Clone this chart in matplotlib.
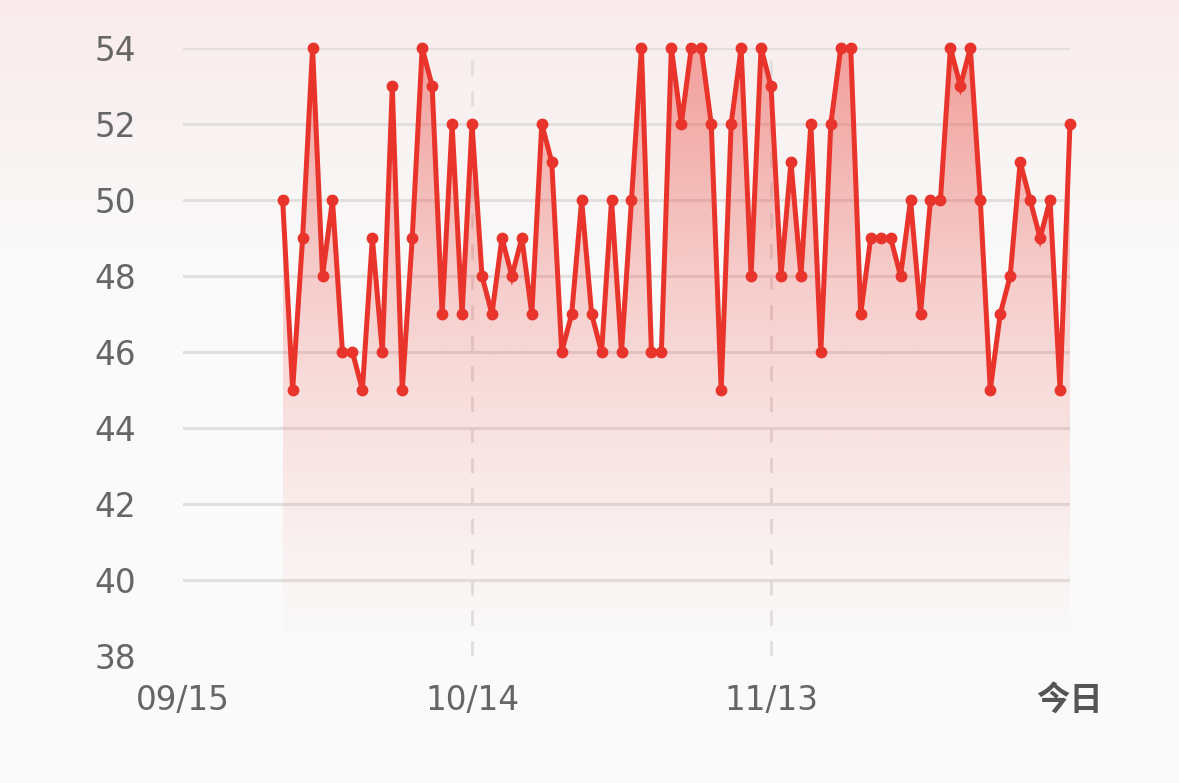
import numpy as np
import pandas as pd
import matplotlib
matplotlib.use("Agg")
import matplotlib.pyplot as plt
import matplotlib.dates as mdates
from matplotlib.colors import to_rgb

# ── Data ──────────────────────────────────────────────────────────────────────
start_date = "2024-09-25"
today = "2024-12-13"
values = [50, 45, 49, 54, 48, 50, 46, 46, 45, 49,
          46, 53, 45, 49, 54, 53, 47, 52, 47, 52,
          48, 47, 49, 48, 49, 47, 52, 51, 46, 47,
          50, 47, 46, 50, 46, 50, 54, 46, 46, 54,
          52, 54, 54, 52, 45, 52, 54, 48, 54, 53,
          48, 51, 48, 52, 46, 52, 54, 54, 47, 49,
          49, 49, 48, 50, 47, 50, 50, 54, 53, 54,
          50, 45, 47, 48, 51, 50, 49, 50, 45, 52]
tick_dates = ["2024-09-15", "2024-10-14", "2024-11-13", "2024-12-13"]
tick_labels = ["09/15", "10/14", "11/13", "今日"]
y_ticks = [38, 40, 42, 44, 46, 48, 50, 52, 54]

dates = pd.date_range(start_date, today, freq="D")
ticks = pd.to_datetime(tick_dates)

RED = "#E9342B"
W, H = 1179, 783

fig = plt.figure(figsize=(W / 100, H / 100), dpi=100)

# ── Background gradient ───────────────────────────────────────────────────────
bg_ax = fig.add_axes([0, 0, 1, 1], zorder=0)
bg_ax.set_axis_off()
rows = np.linspace(0, 1, H)
t = np.clip(rows / 0.33, 0, 1)[:, None]
top_c = np.array([249, 235, 235]) / 255
bot_c = np.array([250, 250, 250]) / 255
grad = top_c * (1 - t) + bot_c * t
bg_ax.imshow(np.repeat(grad[:, None, :], 2, axis=1), aspect="auto",
             extent=[0, 1, 0, 1], origin="upper")
bg_ax.set_xlim(0, 1)
bg_ax.set_ylim(0, 1)

# ── Main axes ─────────────────────────────────────────────────────────────────
ax = fig.add_axes([183 / W, 1 - 656 / H, (1070 - 183) / W, (656 - 48) / H], zorder=1)
ax.patch.set_alpha(0)
for s in ax.spines.values():
    s.set_visible(False)

x0, x1 = ticks[0], ticks[-1]
ax.set_xlim(x0, x1)
ax.set_ylim(38, 54)

# grid
for yv in y_ticks[1:]:
    ax.axhline(yv, color="#E4DFDF", linewidth=2.2, zorder=1)
for d in ticks[1:3]:
    ax.axvline(d, color="#E2DDDD", linewidth=2, linestyle=(0, (5.5, 5.5)), zorder=1)

# gradient fill under the line
xs = mdates.date2num(dates)
poly = ax.fill_between(dates, values, 38, color="none", linewidth=0)
r, g, b = to_rgb(RED)
n = 256
alpha = np.linspace(0.5, 0.0, n) ** 1.25
img = np.zeros((n, 2, 4))
img[..., 0], img[..., 1], img[..., 2] = r, g, b
img[..., 3] = alpha[:, None]
im = ax.imshow(img, aspect="auto", origin="upper",
               extent=[xs[0], xs[-1], 38, 54], zorder=2)
path = poly.get_paths()[0]
im.set_clip_path(path, transform=ax.transData)

ax.plot(dates, values, color=RED, linewidth=3.6, marker="o", markersize=7.5,
        zorder=3, clip_on=False, solid_joinstyle="miter")

# ticks
ax.set_yticks(y_ticks)
ax.set_yticklabels([str(v) for v in y_ticks])
ax.set_xticks(ticks)
ax.set_xticklabels(tick_labels)
ax.tick_params(axis="y", length=0, pad=34, labelsize=23.5, labelcolor="#666666")
ax.tick_params(axis="x", length=0, pad=20, labelsize=23.5, labelcolor="#666666")
for lab in ax.get_yticklabels() + ax.get_xticklabels():
    lab.set_family("DejaVu Sans")
last = ax.get_xticklabels()[-1]
last.set_family(["Noto Sans CJK SC", "DejaVu Sans"])
last.set_fontweight("bold")
last.set_fontsize(24)
last.set_color("#555555")

fig.savefig("out.png", dpi=100)
